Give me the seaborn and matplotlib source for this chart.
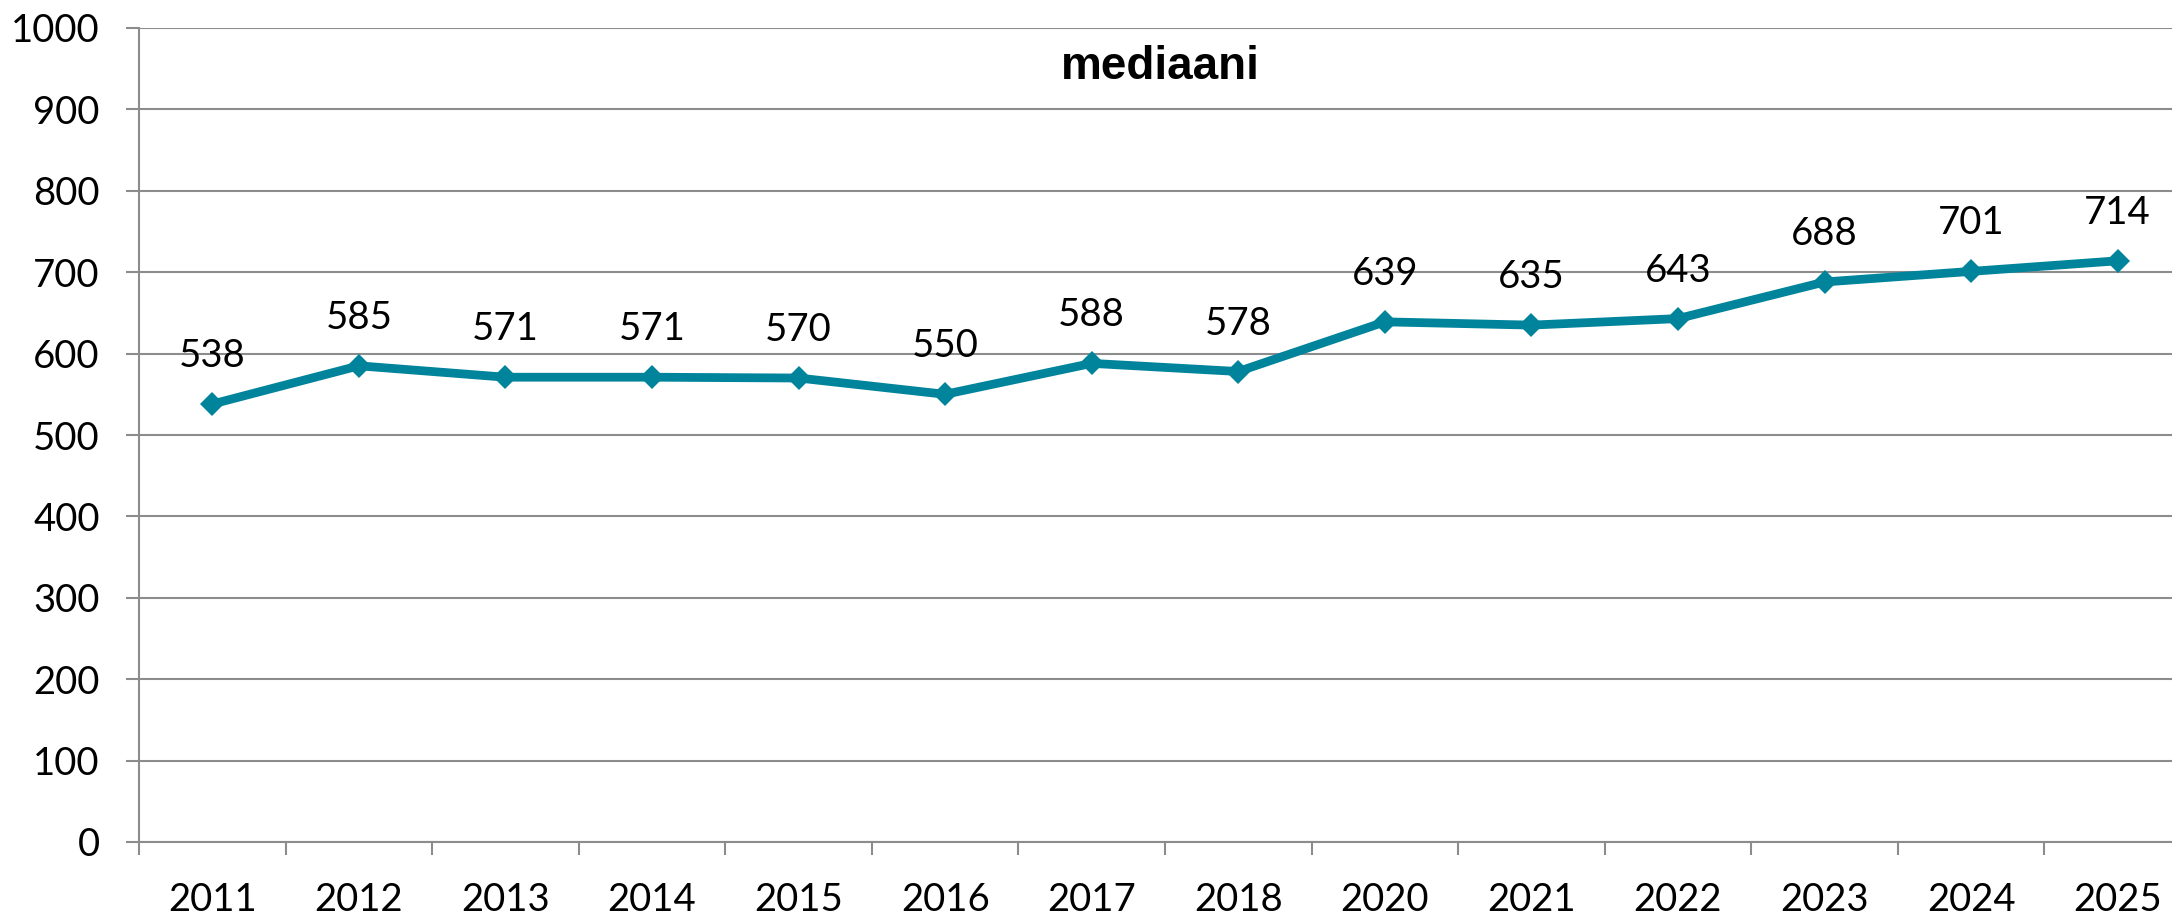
import matplotlib
matplotlib.use("Agg")
import matplotlib.pyplot as plt
import seaborn as sns
import pandas as pd

# Median values by year
years = ["2011", "2012", "2013", "2014", "2015", "2016", "2017", "2018",
         "2020", "2021", "2022", "2023", "2024", "2025"]
median = [538, 585, 571, 571, 570, 550, 588, 578, 639, 635, 643, 688, 701, 714]
y_ticks = [0, 100, 200, 300, 400, 500, 600, 700, 800, 900, 1000]
title = "mediaani"

sns.set_theme(style="white")
plt.rcParams["font.family"] = ["Lato", "DejaVu Sans"]

LINE = "#00849B"
GRID = "#8C8C8C"
DPI = 100
W, H = 2172, 914

fig = plt.figure(figsize=(W / DPI, H / DPI), dpi=DPI)
# plot area spans 139..2191 px horizontally (runs past the right edge), 28..842 px vertically
ax = fig.add_axes([139 / W, (H - 842) / H, 2052 / W, (842 - 28) / H])

df = pd.DataFrame({"year": years, "value": median})
sns.lineplot(data=df, x="year", y="value", ax=ax, color=LINE, linewidth=6.3,
             marker="D", markersize=12.5, markeredgewidth=0, sort=False)

ax.set_xlim(-0.5, len(years) - 0.5)
ax.set_ylim(0, 1000)
ax.set_yticks(y_ticks)
ax.set_xticks(range(len(years)))
ax.set_xticklabels(years)
ax.set_xticks([i - 0.5 for i in range(len(years) + 1)], minor=True)
ax.set_xlabel("")
ax.set_ylabel("")

ax.grid(axis="y", color=GRID, linewidth=1.5)
ax.grid(axis="x", visible=False)
ax.set_axisbelow(True)
for side in ("top", "right"):
    ax.spines[side].set_visible(False)
for side in ("left", "bottom"):
    ax.spines[side].set_color(GRID)
    ax.spines[side].set_linewidth(1.5)

ax.tick_params(axis="y", which="major", length=9.4, width=1.5, color=GRID,
               pad=19, labelsize=27.5, labelcolor="black", left=True)
ax.tick_params(axis="x", which="major", length=0, pad=29, labelsize=27.5,
               labelcolor="black", bottom=True)
ax.tick_params(axis="x", which="minor", length=9.4, width=1.5, color=GRID,
               bottom=True)

for i, v in enumerate(median):
    ax.annotate(str(v), xy=(i, v), xytext=(0, 34.5), textcoords="offset points",
                ha="center", va="center", fontsize=27.5, color="black")

fig.text(1160 / W, 1 - 79 / H, title, ha="center", va="baseline",
         fontsize=33, fontweight="bold",
         family=["Liberation Sans", "DejaVu Sans"], color="black")

fig.savefig("out.png", dpi=DPI, facecolor="white")
